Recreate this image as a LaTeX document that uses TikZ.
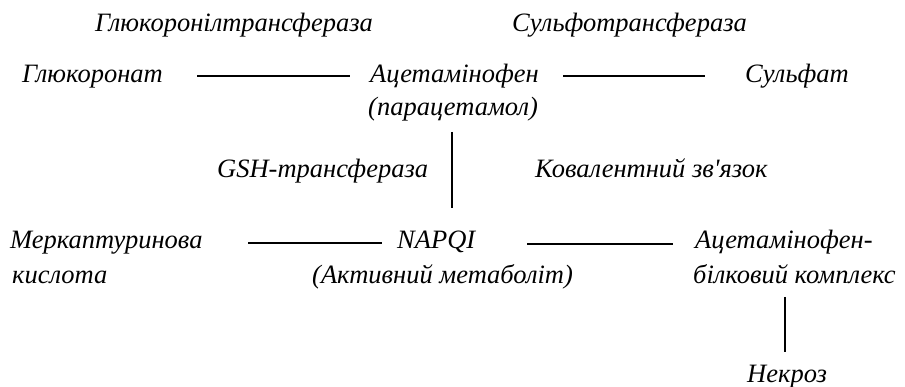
\documentclass[tikz,border=0pt]{standalone}
\usepackage{fontspec}
\setmainfont{Liberation Serif}
\newcommand{\straightapos}{\XeTeXglyph\XeTeXcharglyph"0027\relax}
\begin{document}
\begin{tikzpicture}[x=1pt,y=-1pt,
  lbl/.style={font=\fontsize{26.5}{32}\selectfont\itshape, inner sep=0pt, anchor=base west},
  conn/.style={line width=1.3pt}]
\useasboundingbox (0,0) rectangle (905,387);
\node[lbl] (gt) at (95,32) {Глюкоронілтрансфераза};
\node[lbl] (st) at (512,32) {Сульфотрансфераза};
\node[lbl] (glu) at (22,83) {Глюкоронат};
\node[lbl] (ac) at (370,83) {Ацетамінофен};
\node[lbl] (par) at (368,116) {(парацетамол)};
\node[lbl] (sul) at (745,83) {Сульфат};
\node[lbl] (gsh) at (217,178) {GSH-трансфераза};
\node[lbl] (kov) at (535,178) {Ковалентний зв\straightapos язок};
\node[lbl] (mer) at (10,249) {Меркаптуринова};
\node[lbl] (kis) at (12,284) {кислота};
\node[lbl] (nap) at (397,249) {NAPQI};
\node[lbl] (act) at (312,284) {(Активний метаболіт)};
\node[lbl] (abk) at (695,249) {Ацетамінофен-};
\node[lbl] (bk) at (693,284) {білковий комплекс};
\node[lbl] (nek) at (747,382) {Некроз};
\coordinate (l1a) at (197,76); \coordinate (l1b) at (350,76);
\coordinate (l2a) at (563,76); \coordinate (l2b) at (705,76);
\coordinate (v1a) at (452,132); \coordinate (v1b) at (452,208);
\coordinate (l3a) at (248,243); \coordinate (l3b) at (382,243);
\coordinate (l4a) at (527,244); \coordinate (l4b) at (673,244);
\coordinate (v2a) at (785,297); \coordinate (v2b) at (785,352);
\draw[conn] (l1a) -- (l1b);
\draw[conn] (l2a) -- (l2b);
\draw[conn] (v1a) -- (v1b);
\draw[conn] (l3a) -- (l3b);
\draw[conn] (l4a) -- (l4b);
\draw[conn] (v2a) -- (v2b);
\end{tikzpicture}
\end{document}
